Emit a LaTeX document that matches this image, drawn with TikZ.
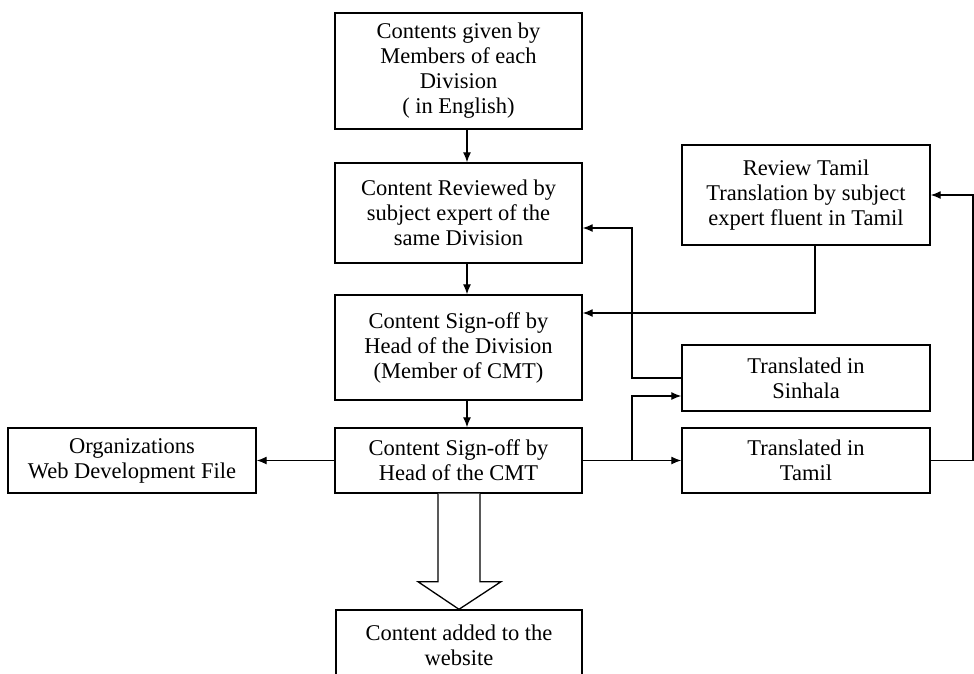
\documentclass[tikz,border=0pt]{standalone}
\usepackage{fontspec}
\setmainfont{Liberation Serif}
\usetikzlibrary{arrows.meta,calc}
\begin{document}
\begin{tikzpicture}[x=1pt,y=-1pt,
  box/.style={draw,line width=1.4pt,fill=white,align=center,inner sep=0pt,
    font=\fontsize{22.5}{25}\selectfont},
  conn/.style={line width=1.3pt,-{Latex[length=10pt,width=8pt]}},
  plain/.style={line width=1.3pt}]
\useasboundingbox (0,0) rectangle (974,673);
\clip (0,0) rectangle (974,673);
\fill[white] (0,0) rectangle (974,673);
% nodes
\node[box,minimum width=247pt,minimum height=116pt] (b1) at (458.5,71) {Contents given by\\Members of each\\Division\\( in English)};
\node[box,minimum width=247pt,minimum height=100pt] (b2) at (458.5,213) {Content Reviewed by\\subject expert of the\\same Division};
\node[box,minimum width=247pt,minimum height=105pt] (b3) at (458.5,347.5) {Content Sign-off by\\Head of the Division\\(Member of CMT)};
\node[box,minimum width=247pt,minimum height=65pt] (b4) at (458.5,460.5) {Content Sign-off by\\Head of the CMT};
\node[box,minimum width=248pt,minimum height=65pt] (org) at (132,460.5) {Organizations\\Web Development File};
\node[box,minimum width=248pt,minimum height=100pt] (rev) at (806,195) {Review Tamil\\Translation by subject\\expert fluent in Tamil};
\node[box,minimum width=248pt,minimum height=66pt] (sin) at (806,378) {Translated in\\Sinhala};
\node[box,minimum width=248pt,minimum height=65pt] (tam) at (806,460.5) {Translated in\\Tamil};
\node[box,minimum width=246pt,minimum height=70pt] (web) at (459,645) {Content added to the\\website};
% main chain
\draw[conn] ([xshift=8.5pt]b1.south) -- ([xshift=8.5pt]b2.north);
\draw[conn] ([xshift=8.5pt]b2.south) -- ([xshift=8.5pt]b3.north);
\draw[conn] ([xshift=8.5pt]b3.south) -- ([xshift=8.5pt]b4.north);
\draw[conn] (b4.west) -- (org.east);
\draw[conn] (b4.east) -- (tam.west);
% branch to Sinhala
\coordinate (j1) at ($(b4.east)!0.5!(tam.west)$);
\draw[conn] (j1) |- ([yshift=-18pt]sin.west);
% Sinhala back to reviewed
\coordinate (s1) at (632,378);
\draw[conn] (sin.west) -- (s1) |- ([yshift=-15pt]b2.east);
% review Tamil to sign-off division
\draw[conn] ([xshift=9pt]rev.south) |- ([yshift=34.5pt]b3.east);
% Tamil loop to review
\coordinate (r1) at (973,460.5);
\draw[conn] (tam.east) -- (r1) |- (rev.east);
% hollow arrow to website
\draw[plain,fill=white] ($(b4.south)+(-20.5,0)$) -- ++(0,88) -- ++(-20,0)
  -- (web.north) -- ($(b4.south)+(42.5,88)$) -- ++(-21,0) -- ($(b4.south)+(21.5,0)$);
\end{tikzpicture}
\end{document}
